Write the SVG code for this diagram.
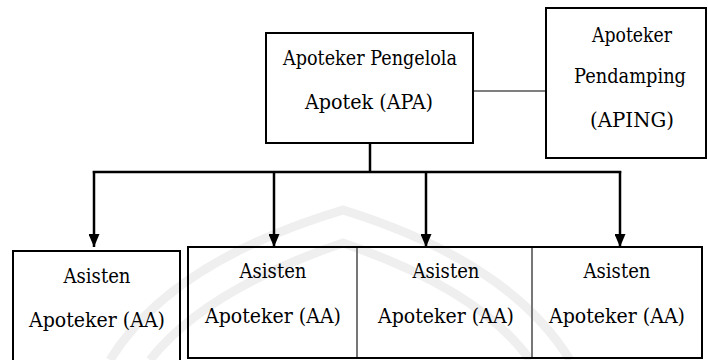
<svg xmlns="http://www.w3.org/2000/svg" width="708" height="360" viewBox="0 0 708 360">
<style>
.box{fill:none;stroke:#000;stroke-width:2}
.div{fill:none;stroke:#777;stroke-width:2}
.t{font-family:'DejaVu Serif',serif;font-size:21px;fill:#000;text-anchor:middle}
.bus{fill:none;stroke:#000;stroke-width:2.5}
.thin{fill:none;stroke:#000;stroke-width:1.2}
.wm{fill:none;stroke:#efefef;stroke-width:9}
</style>
<defs>
<marker id="ah" markerWidth="13" markerHeight="11" refX="13" refY="5.5" orient="auto" markerUnits="userSpaceOnUse" viewBox="0 0 13 11">
<path d="M0,0 L13,5.5 L0,11 Z" fill="#000"/>
</marker>
</defs>
<rect width="708" height="360" fill="#fff"/>
<g id="watermark">
<path class="wm" d="M110,360 Q170,262 343,210 Q510,262 570,360"/>
<path class="wm" d="M150,360 Q205,290 343,243 Q480,290 530,360"/>
</g>
<g id="connectors">
<line class="thin" x1="473" y1="91" x2="546" y2="91"/>
<line class="bus" x1="370" y1="143" x2="370" y2="172"/>
<line class="bus" x1="92.8" y1="172" x2="621.2" y2="172"/>
<line class="bus" x1="94" y1="171" x2="94" y2="247" marker-end="url(#ah)"/>
<line class="bus" x1="274" y1="172" x2="274" y2="247" marker-end="url(#ah)"/>
<line class="bus" x1="426" y1="172" x2="426" y2="247" marker-end="url(#ah)"/>
<line class="bus" x1="620" y1="171" x2="620" y2="247" marker-end="url(#ah)"/>
</g>
<g id="apa">
<rect class="box" x="266" y="33" width="207" height="110"/>
<text class="t" x="370" y="65" textLength="174" lengthAdjust="spacingAndGlyphs">Apoteker Pengelola</text>
<text class="t" x="369" y="109" textLength="128" lengthAdjust="spacingAndGlyphs">Apotek (APA)</text>
</g>
<g id="aping">
<rect class="box" x="546" y="8" width="160" height="150"/>
<text class="t" x="632" y="42" textLength="80" lengthAdjust="spacingAndGlyphs">Apoteker</text>
<text class="t" x="630" y="83" textLength="112" lengthAdjust="spacingAndGlyphs">Pendamping</text>
<text class="t" x="632" y="127" textLength="84" lengthAdjust="spacingAndGlyphs">(APING)</text>
</g>
<g id="aa1">
<rect class="box" x="13" y="251" width="167" height="112"/>
<text class="t" x="97" y="283" textLength="67" lengthAdjust="spacingAndGlyphs">Asisten</text>
<text class="t" x="97" y="327" textLength="136" lengthAdjust="spacingAndGlyphs">Apoteker (AA)</text>
</g>
<g id="aa-group">
<rect class="box" x="188" y="247" width="514" height="111"/>
</g>
<g id="aa2">
<text class="t" x="273" y="278" textLength="67" lengthAdjust="spacingAndGlyphs">Asisten</text>
<text class="t" x="273" y="323" textLength="136" lengthAdjust="spacingAndGlyphs">Apoteker (AA)</text>
</g>
<g id="aa3">
<line class="div" x1="357" y1="248" x2="357" y2="357"/>
<text class="t" x="446" y="278" textLength="67" lengthAdjust="spacingAndGlyphs">Asisten</text>
<text class="t" x="446" y="323" textLength="136" lengthAdjust="spacingAndGlyphs">Apoteker (AA)</text>
</g>
<g id="aa4">
<line class="div" x1="532" y1="248" x2="532" y2="357"/>
<text class="t" x="617" y="278" textLength="67" lengthAdjust="spacingAndGlyphs">Asisten</text>
<text class="t" x="617" y="323" textLength="136" lengthAdjust="spacingAndGlyphs">Apoteker (AA)</text>
</g>
</svg>
